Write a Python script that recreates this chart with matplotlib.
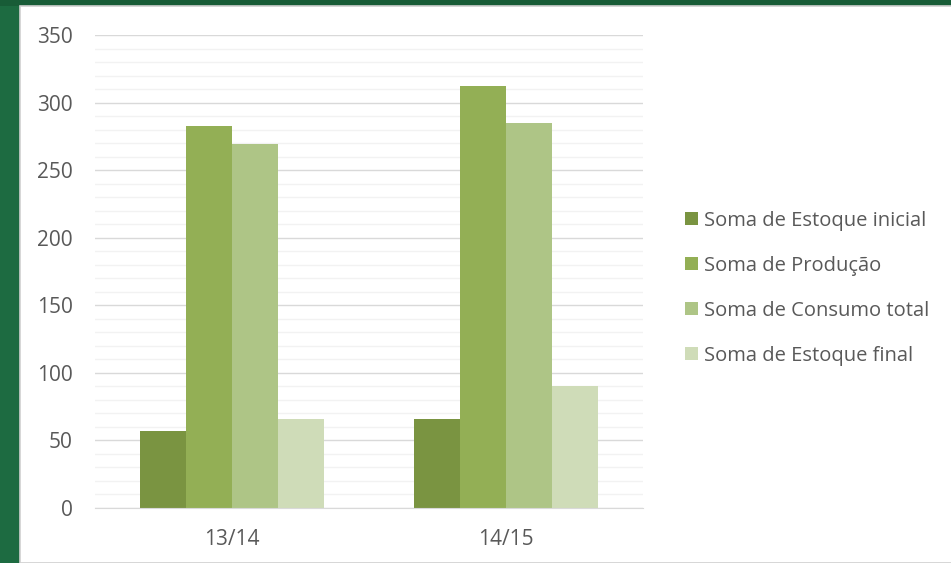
import numpy as np
import matplotlib
matplotlib.use("Agg")
import matplotlib.pyplot as plt
from matplotlib.patches import Rectangle

plt.rcParams['font.family'] = ['Open Sans', 'DejaVu Sans']

safras = ['13/14', '14/15']
series = ['Soma de Estoque inicial', 'Soma de Produção',
          'Soma de Consumo total', 'Soma de Estoque final']
estoque_inicial = [57, 66]
producao = [283, 312]
consumo_total = [269, 285]
estoque_final = [66, 90]
valores = [estoque_inicial, producao, consumo_total, estoque_final]
cores = ['#7A9441', '#93AF55', '#AEC586', '#CFDCB8']

fig = plt.figure(figsize=(9.51, 5.63), dpi=100)
fig.patch.set_facecolor('white')

# moldura verde escura + painel branco
fig.patches.append(Rectangle((0, 0), 1, 1, transform=fig.transFigure,
                             facecolor='#1D6B41', edgecolor='none', zorder=-3))
fig.patches.append(Rectangle((0, 1 - 6 / 563), 1, 6 / 563, transform=fig.transFigure,
                             facecolor='#185C37', edgecolor='none', zorder=-2))
fig.patches.append(Rectangle((20 / 951, 0), 1, 1 - 6 / 563, transform=fig.transFigure,
                             facecolor='white', edgecolor='#D0D0D0', linewidth=1.2, zorder=-1))

ax = fig.add_axes([95 / 951, 1 - 508 / 563, (643 - 95) / 951, (508 - 35) / 563])
ax.set_facecolor('none')

x = np.arange(len(safras))
w = 46 / 275
for i, (nome, vals) in enumerate(zip(series, valores)):
    ax.bar(x + (i - 1.5) * w, vals, width=w, color=cores[i], label=nome, zorder=3)

ax.set_xlim(-0.5, len(safras) - 0.5)
ax.set_ylim(0, 350)
ax.set_yticks(np.arange(0, 351, 50))
ax.set_yticks(np.arange(0, 351, 10), minor=True)
ax.grid(axis='y', which='major', color='#D9D9D9', linewidth=1.0, zorder=0)
ax.grid(axis='y', which='minor', color='#F2F2F2', linewidth=1.0, zorder=0)
ax.set_xticks(x)
ax.set_xticklabels(safras)
ax.tick_params(axis='both', which='both', length=0, labelsize=15, colors='#595959')
ax.tick_params(axis='y', pad=16)
ax.tick_params(axis='x', pad=15)
for s in ['top', 'right', 'left']:
    ax.spines[s].set_visible(False)
ax.spines['bottom'].set_color('#D9D9D9')
ax.spines['bottom'].set_zorder(4)

leg = fig.legend(loc='center left', bbox_to_anchor=(677 / 951, 1 - 288.5 / 563),
                 frameon=False, fontsize=14.5, handlelength=0.62, handleheight=0.62,
                 handletextpad=0.3, labelspacing=1.24, borderaxespad=0)
for t in leg.get_texts():
    t.set_color('#595959')

fig.savefig('out.png', dpi=100)
